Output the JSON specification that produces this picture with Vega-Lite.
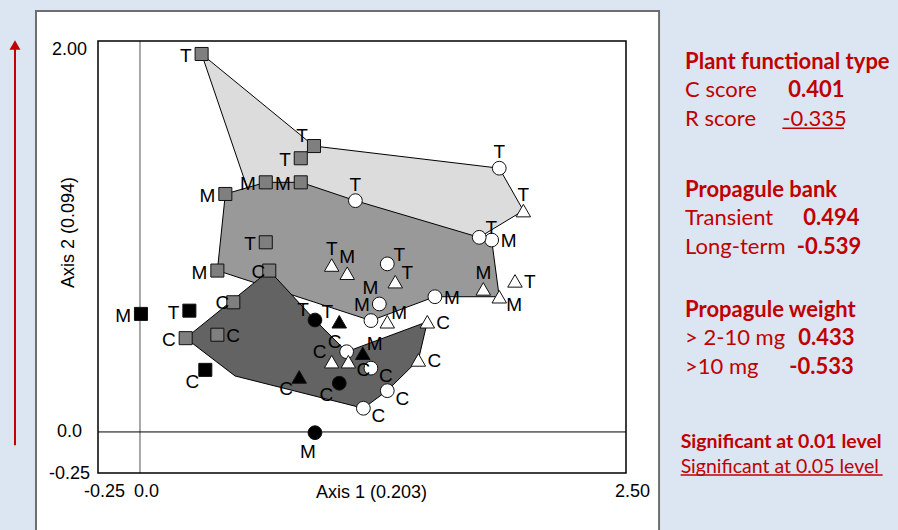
{
  "$schema": "https://vega.github.io/schema/vega-lite/v6.json",
  "width": 528,
  "height": 432,
  "autosize": {"type": "none"},
  "padding": {"left": 98, "top": 41, "right": 272, "bottom": 57},
  "background": "#dce6f2",
  "config": {
    "view": {"stroke": null},
    "axis": {"grid": false, "ticks": false, "domain": false, "labelFont": "Liberation Sans", "labelFontSize": 18, "labelColor": "#000", "titleFont": "Liberation Sans", "titleFontSize": 18, "titleFontWeight": "normal", "titleColor": "#000"}
  },
  "datasets": {
    "one": [{}],
    "pts": [
      {"form": "square", "tone": "grey", "lab": "T", "side": "L", "x": 0.317, "y": 1.979},
      {"form": "square", "tone": "grey", "lab": "T", "side": "TL", "x": 0.895, "y": 1.497},
      {"form": "square", "tone": "grey", "lab": "T", "side": "L", "x": 0.827, "y": 1.433},
      {"form": "square", "tone": "grey", "lab": "M", "side": "L", "x": 0.647, "y": 1.307},
      {"form": "square", "tone": "grey", "lab": "M", "side": "L", "x": 0.827, "y": 1.307},
      {"form": "square", "tone": "grey", "lab": "M", "side": "L", "x": 0.439, "y": 1.246},
      {"form": "circle", "tone": "white", "lab": "T", "side": "T", "x": 1.108, "y": 1.211},
      {"form": "circle", "tone": "white", "lab": "T", "side": "T", "x": 1.848, "y": 1.381},
      {"form": "triangle", "tone": "white", "lab": "T", "side": "T", "x": 1.972, "y": 1.159},
      {"form": "circle", "tone": "white", "lab": "M", "side": "R", "x": 1.809, "y": 1.005},
      {"form": "circle", "tone": "white", "lab": "T", "side": "TR", "x": 1.745, "y": 1.019},
      {"form": "square", "tone": "grey", "lab": "T", "side": "L", "x": 0.647, "y": 0.993},
      {"form": "square", "tone": "grey", "lab": "M", "side": "L", "x": 0.398, "y": 0.845},
      {"form": "square", "tone": "grey", "lab": "C", "side": "Lc", "x": 0.665, "y": 0.845},
      {"form": "triangle", "tone": "white", "lab": "T", "side": "T", "x": 0.986, "y": 0.874},
      {"form": "triangle", "tone": "white", "lab": "M", "side": "T", "x": 1.066, "y": 0.831},
      {"form": "circle", "tone": "white", "lab": "T", "side": "TR", "x": 1.272, "y": 0.88},
      {"form": "triangle", "tone": "white", "lab": "T", "side": "TR", "x": 1.313, "y": 0.787},
      {"form": "circle", "tone": "white", "lab": "M", "side": "TTL", "x": 1.231, "y": 0.67},
      {"form": "circle", "tone": "white", "lab": "M", "side": "TTL", "x": 1.188, "y": 0.583},
      {"form": "triangle", "tone": "white", "lab": "M", "side": "TR", "x": 1.272, "y": 0.577},
      {"form": "circle", "tone": "white", "lab": "M", "side": "R", "x": 1.517, "y": 0.708},
      {"form": "triangle", "tone": "white", "lab": "M", "side": "T", "x": 1.766, "y": 0.749},
      {"form": "triangle", "tone": "white", "lab": "M", "side": "BR", "x": 1.848, "y": 0.708},
      {"form": "triangle", "tone": "white", "lab": "T", "side": "R", "x": 1.929, "y": 0.791},
      {"form": "triangle", "tone": "white", "lab": "C", "side": "R", "x": 1.478, "y": 0.577},
      {"form": "circle", "tone": "black", "lab": "T", "side": "TL", "x": 0.9, "y": 0.586},
      {"form": "triangle", "tone": "black", "lab": "T", "side": "TL", "x": 1.025, "y": 0.577},
      {"form": "square", "tone": "black", "lab": "M", "side": "L", "x": 0.005, "y": 0.618},
      {"form": "square", "tone": "black", "lab": "T", "side": "L", "x": 0.254, "y": 0.635},
      {"form": "square", "tone": "grey", "lab": "C", "side": "Lc", "x": 0.48, "y": 0.679},
      {"form": "square", "tone": "grey", "lab": "C", "side": "L", "x": 0.235, "y": 0.491},
      {"form": "square", "tone": "grey", "lab": "C", "side": "R", "x": 0.398, "y": 0.509},
      {"form": "square", "tone": "black", "lab": "C", "side": "BL", "x": 0.336, "y": 0.325},
      {"form": "triangle", "tone": "black", "lab": "C", "side": "BL", "x": 0.819, "y": 0.288},
      {"form": "circle", "tone": "black", "lab": "M", "side": "B", "x": 0.9, "y": -0.004},
      {"form": "circle", "tone": "white", "lab": "C", "side": "TL", "x": 1.063, "y": 0.42},
      {"form": "triangle", "tone": "black", "lab": "M", "side": "TR", "x": 1.146, "y": 0.412},
      {"form": "triangle", "tone": "white", "lab": "C", "side": "TL", "x": 0.986, "y": 0.368},
      {"form": "triangle", "tone": "white", "lab": "C", "side": "BR", "x": 1.072, "y": 0.368},
      {"form": "circle", "tone": "white", "lab": "C", "side": "BR", "x": 1.188, "y": 0.334},
      {"form": "circle", "tone": "black", "lab": "C", "side": "BL", "x": 1.025, "y": 0.255},
      {"form": "circle", "tone": "white", "lab": "C", "side": "BR", "x": 1.272, "y": 0.216},
      {"form": "circle", "tone": "white", "lab": "C", "side": "BR", "x": 1.149, "y": 0.124},
      {"form": "triangle", "tone": "white", "lab": "C", "side": "R", "x": 1.432, "y": 0.377}
    ],
    "poly": [
      {"p": "L", "i": 0, "x": 0.317, "y": 1.979},
      {"p": "L", "i": 1, "x": 0.895, "y": 1.497},
      {"p": "L", "i": 2, "x": 1.848, "y": 1.381},
      {"p": "L", "i": 3, "x": 1.972, "y": 1.159},
      {"p": "L", "i": 4, "x": 1.745, "y": 1.019},
      {"p": "L", "i": 5, "x": 0.647, "y": 0.993},
      {"p": "M", "i": 0, "x": 0.439, "y": 1.246},
      {"p": "M", "i": 1, "x": 0.647, "y": 1.307},
      {"p": "M", "i": 2, "x": 0.827, "y": 1.307},
      {"p": "M", "i": 3, "x": 1.108, "y": 1.211},
      {"p": "M", "i": 4, "x": 1.745, "y": 1.019},
      {"p": "M", "i": 5, "x": 1.809, "y": 1.005},
      {"p": "M", "i": 6, "x": 1.848, "y": 0.708},
      {"p": "M", "i": 7, "x": 1.517, "y": 0.708},
      {"p": "M", "i": 8, "x": 1.188, "y": 0.583},
      {"p": "M", "i": 9, "x": 0.398, "y": 0.845},
      {"p": "D", "i": 0, "x": 0.665, "y": 0.845},
      {"p": "D", "i": 1, "x": 0.9, "y": 0.586},
      {"p": "D", "i": 2, "x": 1.063, "y": 0.42},
      {"p": "D", "i": 3, "x": 1.478, "y": 0.577},
      {"p": "D", "i": 4, "x": 1.432, "y": 0.377},
      {"p": "D", "i": 5, "x": 1.272, "y": 0.216},
      {"p": "D", "i": 6, "x": 1.149, "y": 0.124},
      {"p": "D", "i": 7, "x": 0.489, "y": 0.293},
      {"p": "D", "i": 8, "x": 0.235, "y": 0.491}
    ],
    "notes": [
      {"t": "Plant functional type", "s": "head", "x": 2.804, "y": 1.939},
      {"t": "Propagule bank", "s": "head", "x": 2.804, "y": 1.267},
      {"t": "Propagule weight", "s": "head", "x": 2.804, "y": 0.639},
      {"t": "C score", "s": "lab", "x": 2.804, "y": 1.791},
      {"t": "R score", "s": "lab", "x": 2.804, "y": 1.639},
      {"t": "Transient", "s": "lab", "x": 2.804, "y": 1.119},
      {"t": "Long-term", "s": "lab", "x": 2.804, "y": 0.97},
      {"t": "> 2-10 mg", "s": "lab", "x": 2.804, "y": 0.494},
      {"t": ">10 mg", "s": "lab", "x": 2.804, "y": 0.342},
      {"t": "-0.335", "s": "lab", "x": 3.304, "y": 1.639},
      {"t": "0.401", "s": "head", "x": 3.335, "y": 1.791},
      {"t": "0.494", "s": "head", "x": 3.412, "y": 1.119},
      {"t": "-0.539", "s": "head", "x": 3.378, "y": 0.97},
      {"t": "0.433", "s": "head", "x": 3.386, "y": 0.494},
      {"t": "-0.533", "s": "head", "x": 3.34, "y": 0.342},
      {"t": "Significant at 0.01 level", "s": "sig1", "x": 2.781, "y": -0.051},
      {"t": "Significant at 0.05 level", "s": "sig2", "x": 2.781, "y": -0.182}
    ],
    "unders": [
      {"x": 3.304, "x2": 3.621, "y": 1.59},
      {"x": 2.781, "x2": 3.82, "y": -0.225}
    ]
  },
  "layer": [
    {
      "data": {"name": "one"},
      "mark": {"type": "rect", "fill": "#ffffff", "stroke": "#6e6e6e", "strokeWidth": 2},
      "encoding": {
        "x": {"datum": -0.535, "type": "quantitative", "scale": {"domain": [-0.216, 2.5], "nice": false, "zero": false},
              "axis": {"zindex": 2, "values": [-0.216, 0, 2.5], "labelExpr": "datum.value < -0.1 ? '-0.25' : datum.value == 0 ? '0.0' : '2.50'", "labelFlush": false, "labelOverlap": false, "labelPadding": 9, "labelOffset": 6, "title": "Axis 1 (0.203)", "titleX": 273, "titleY": 19, "titleBaseline": "middle"}},
        "x2": {"datum": 2.67},
        "y": {"datum": 2.204, "type": "quantitative", "scale": {"domain": [-0.215, 2.047], "nice": false, "zero": false},
              "axis": {"zindex": 2, "values": [-0.215, 0, 2.0], "labelExpr": "datum.value < -0.1 ? '-0.25' : datum.value == 0 ? '0.0' : '2.00'", "labelFlush": false, "labelOverlap": false, "labelAlign": "center", "labelPadding": 29, "title": "Axis 2 (0.094)", "titleX": -30, "titleY": 191, "titleAngle": -90, "titleAlign": "center", "titleBaseline": "middle"}},
        "y2": {"datum": -0.6}
      }
    },
    {
      "data": {"name": "arrow", "values": [{"x": -0.643, "y": -0.07, "y2": 2.02}]},
      "mark": {"type": "rule", "color": "#c00000", "strokeWidth": 2},
      "encoding": {"x": {"field": "x", "type": "quantitative"}, "y": {"field": "y", "type": "quantitative"}, "y2": {"field": "y2"}}
    },
    {
      "data": {"name": "arrowhead", "values": [{"x": -0.643, "y": 2.026}]},
      "mark": {"type": "point", "shape": "triangle-up", "filled": true, "color": "#c00000", "size": 120, "opacity": 1},
      "encoding": {"x": {"field": "x", "type": "quantitative"}, "y": {"field": "y", "type": "quantitative"}}
    },
    {
      "data": {"name": "one"},
      "mark": {"type": "rule", "color": "#555555", "strokeWidth": 1},
      "encoding": {"x": {"datum": 0, "type": "quantitative"}, "y": {"datum": -0.215, "type": "quantitative"}, "y2": {"datum": 2.047}}
    },
    {
      "data": {"name": "one"},
      "mark": {"type": "rule", "color": "#000000", "strokeWidth": 1},
      "encoding": {"y": {"datum": 0, "type": "quantitative"}, "x": {"datum": -0.216, "type": "quantitative"}, "x2": {"datum": 2.5}}
    },
    {
      "data": {"name": "poly"},
      "transform": [{"filter": "datum.p == 'L'"}],
      "mark": {"type": "line", "interpolate": "linear-closed", "fill": "#dcdcdc", "stroke": "#000", "strokeWidth": 1},
      "encoding": {"x": {"field": "x", "type": "quantitative"}, "y": {"field": "y", "type": "quantitative"}, "order": {"field": "i", "type": "quantitative"}}
    },
    {
      "data": {"name": "poly"},
      "transform": [{"filter": "datum.p == 'M'"}],
      "mark": {"type": "line", "interpolate": "linear-closed", "fill": "#999999", "stroke": "#000", "strokeWidth": 1},
      "encoding": {"x": {"field": "x", "type": "quantitative"}, "y": {"field": "y", "type": "quantitative"}, "order": {"field": "i", "type": "quantitative"}}
    },
    {
      "data": {"name": "poly"},
      "transform": [{"filter": "datum.p == 'D'"}],
      "mark": {"type": "line", "interpolate": "linear-closed", "fill": "#636363", "stroke": "#000", "strokeWidth": 1},
      "encoding": {"x": {"field": "x", "type": "quantitative"}, "y": {"field": "y", "type": "quantitative"}, "order": {"field": "i", "type": "quantitative"}}
    },
    {
      "data": {"name": "pts"},
      "mark": {"type": "point", "filled": true, "opacity": 1, "stroke": "#111", "strokeWidth": 1},
      "encoding": {
        "x": {"field": "x", "type": "quantitative"},
        "y": {"field": "y", "type": "quantitative"},
        "shape": {"field": "form", "type": "nominal", "scale": {"domain": ["square", "circle", "triangle"], "range": ["square", "circle", "triangle-up"]}, "legend": null},
        "fill": {"field": "tone", "type": "nominal", "scale": {"domain": ["grey", "black", "white"], "range": ["#7f7f7f", "#000000", "#ffffff"]}, "legend": null},
        "size": {"field": "form", "type": "nominal", "scale": {"domain": ["square", "circle", "triangle"], "range": [170, 210, 290]}, "legend": null}
      }
    },
    {"data": {"name": "pts"}, "transform": [{"filter": "datum.side == 'L'"}], "mark": {"type": "text", "font": "Liberation Sans", "fontSize": 19, "color": "#000", "baseline": "middle", "align": "right", "dx": -10, "dy": 2}, "encoding": {"x": {"field": "x", "type": "quantitative"}, "y": {"field": "y", "type": "quantitative"}, "text": {"field": "lab"}}},
    {"data": {"name": "pts"}, "transform": [{"filter": "datum.side == 'Lc'"}], "mark": {"type": "text", "font": "Liberation Sans", "fontSize": 19, "color": "#000", "baseline": "middle", "align": "right", "dx": -4, "dy": 1}, "encoding": {"x": {"field": "x", "type": "quantitative"}, "y": {"field": "y", "type": "quantitative"}, "text": {"field": "lab"}}},
    {"data": {"name": "pts"}, "transform": [{"filter": "datum.side == 'R'"}], "mark": {"type": "text", "font": "Liberation Sans", "fontSize": 19, "color": "#000", "baseline": "middle", "align": "left", "dx": 9, "dy": 1}, "encoding": {"x": {"field": "x", "type": "quantitative"}, "y": {"field": "y", "type": "quantitative"}, "text": {"field": "lab"}}},
    {"data": {"name": "pts"}, "transform": [{"filter": "datum.side == 'T'"}], "mark": {"type": "text", "font": "Liberation Sans", "fontSize": 19, "color": "#000", "baseline": "middle", "align": "center", "dx": 0, "dy": -16}, "encoding": {"x": {"field": "x", "type": "quantitative"}, "y": {"field": "y", "type": "quantitative"}, "text": {"field": "lab"}}},
    {"data": {"name": "pts"}, "transform": [{"filter": "datum.side == 'TTL'"}], "mark": {"type": "text", "font": "Liberation Sans", "fontSize": 19, "color": "#000", "baseline": "middle", "align": "center", "dx": -9, "dy": -16}, "encoding": {"x": {"field": "x", "type": "quantitative"}, "y": {"field": "y", "type": "quantitative"}, "text": {"field": "lab"}}},
    {"data": {"name": "pts"}, "transform": [{"filter": "datum.side == 'TL'"}], "mark": {"type": "text", "font": "Liberation Sans", "fontSize": 19, "color": "#000", "baseline": "middle", "align": "center", "dx": -12, "dy": -10}, "encoding": {"x": {"field": "x", "type": "quantitative"}, "y": {"field": "y", "type": "quantitative"}, "text": {"field": "lab"}}},
    {"data": {"name": "pts"}, "transform": [{"filter": "datum.side == 'TR'"}], "mark": {"type": "text", "font": "Liberation Sans", "fontSize": 19, "color": "#000", "baseline": "middle", "align": "center", "dx": 12, "dy": -9}, "encoding": {"x": {"field": "x", "type": "quantitative"}, "y": {"field": "y", "type": "quantitative"}, "text": {"field": "lab"}}},
    {"data": {"name": "pts"}, "transform": [{"filter": "datum.side == 'BL'"}], "mark": {"type": "text", "font": "Liberation Sans", "fontSize": 19, "color": "#000", "baseline": "middle", "align": "center", "dx": -13, "dy": 12}, "encoding": {"x": {"field": "x", "type": "quantitative"}, "y": {"field": "y", "type": "quantitative"}, "text": {"field": "lab"}}},
    {"data": {"name": "pts"}, "transform": [{"filter": "datum.side == 'BR'"}], "mark": {"type": "text", "font": "Liberation Sans", "fontSize": 19, "color": "#000", "baseline": "middle", "align": "center", "dx": 15, "dy": 8}, "encoding": {"x": {"field": "x", "type": "quantitative"}, "y": {"field": "y", "type": "quantitative"}, "text": {"field": "lab"}}},
    {"data": {"name": "pts"}, "transform": [{"filter": "datum.side == 'B'"}], "mark": {"type": "text", "font": "Liberation Sans", "fontSize": 19, "color": "#000", "baseline": "middle", "align": "center", "dx": -7, "dy": 19}, "encoding": {"x": {"field": "x", "type": "quantitative"}, "y": {"field": "y", "type": "quantitative"}, "text": {"field": "lab"}}},
    {
      "data": {"name": "one"},
      "mark": {"type": "rect", "fill": null, "fillOpacity": 0, "stroke": "#000", "strokeWidth": 1.5},
      "encoding": {"x": {"datum": -0.216, "type": "quantitative"}, "x2": {"datum": 2.5}, "y": {"datum": -0.215, "type": "quantitative"}, "y2": {"datum": 2.047}}
    },
    {"data": {"name": "notes"}, "transform": [{"filter": "datum.s == 'head'"}], "mark": {"type": "text", "font": "Lato", "fontSize": 22, "fontWeight": "bold", "color": "#c00000", "align": "left", "baseline": "middle"}, "encoding": {"x": {"field": "x", "type": "quantitative"}, "y": {"field": "y", "type": "quantitative"}, "text": {"field": "t"}}},
    {"data": {"name": "notes"}, "transform": [{"filter": "datum.s == 'lab'"}], "mark": {"type": "text", "font": "Lato", "fontSize": 22, "fontWeight": "normal", "color": "#c00000", "align": "left", "baseline": "middle"}, "encoding": {"x": {"field": "x", "type": "quantitative"}, "y": {"field": "y", "type": "quantitative"}, "text": {"field": "t"}}},
    {"data": {"name": "notes"}, "transform": [{"filter": "datum.s == 'sig1'"}], "mark": {"type": "text", "font": "Lato", "fontSize": 19.5, "fontWeight": "bold", "color": "#c00000", "align": "left", "baseline": "middle"}, "encoding": {"x": {"field": "x", "type": "quantitative"}, "y": {"field": "y", "type": "quantitative"}, "text": {"field": "t"}}},
    {"data": {"name": "notes"}, "transform": [{"filter": "datum.s == 'sig2'"}], "mark": {"type": "text", "font": "Lato", "fontSize": 19.5, "fontWeight": "normal", "color": "#c00000", "align": "left", "baseline": "middle"}, "encoding": {"x": {"field": "x", "type": "quantitative"}, "y": {"field": "y", "type": "quantitative"}, "text": {"field": "t"}}},
    {"data": {"name": "unders"}, "mark": {"type": "rule", "color": "#c00000", "strokeWidth": 1.5}, "encoding": {"x": {"field": "x", "type": "quantitative"}, "x2": {"field": "x2"}, "y": {"field": "y", "type": "quantitative"}}}
  ]
}
